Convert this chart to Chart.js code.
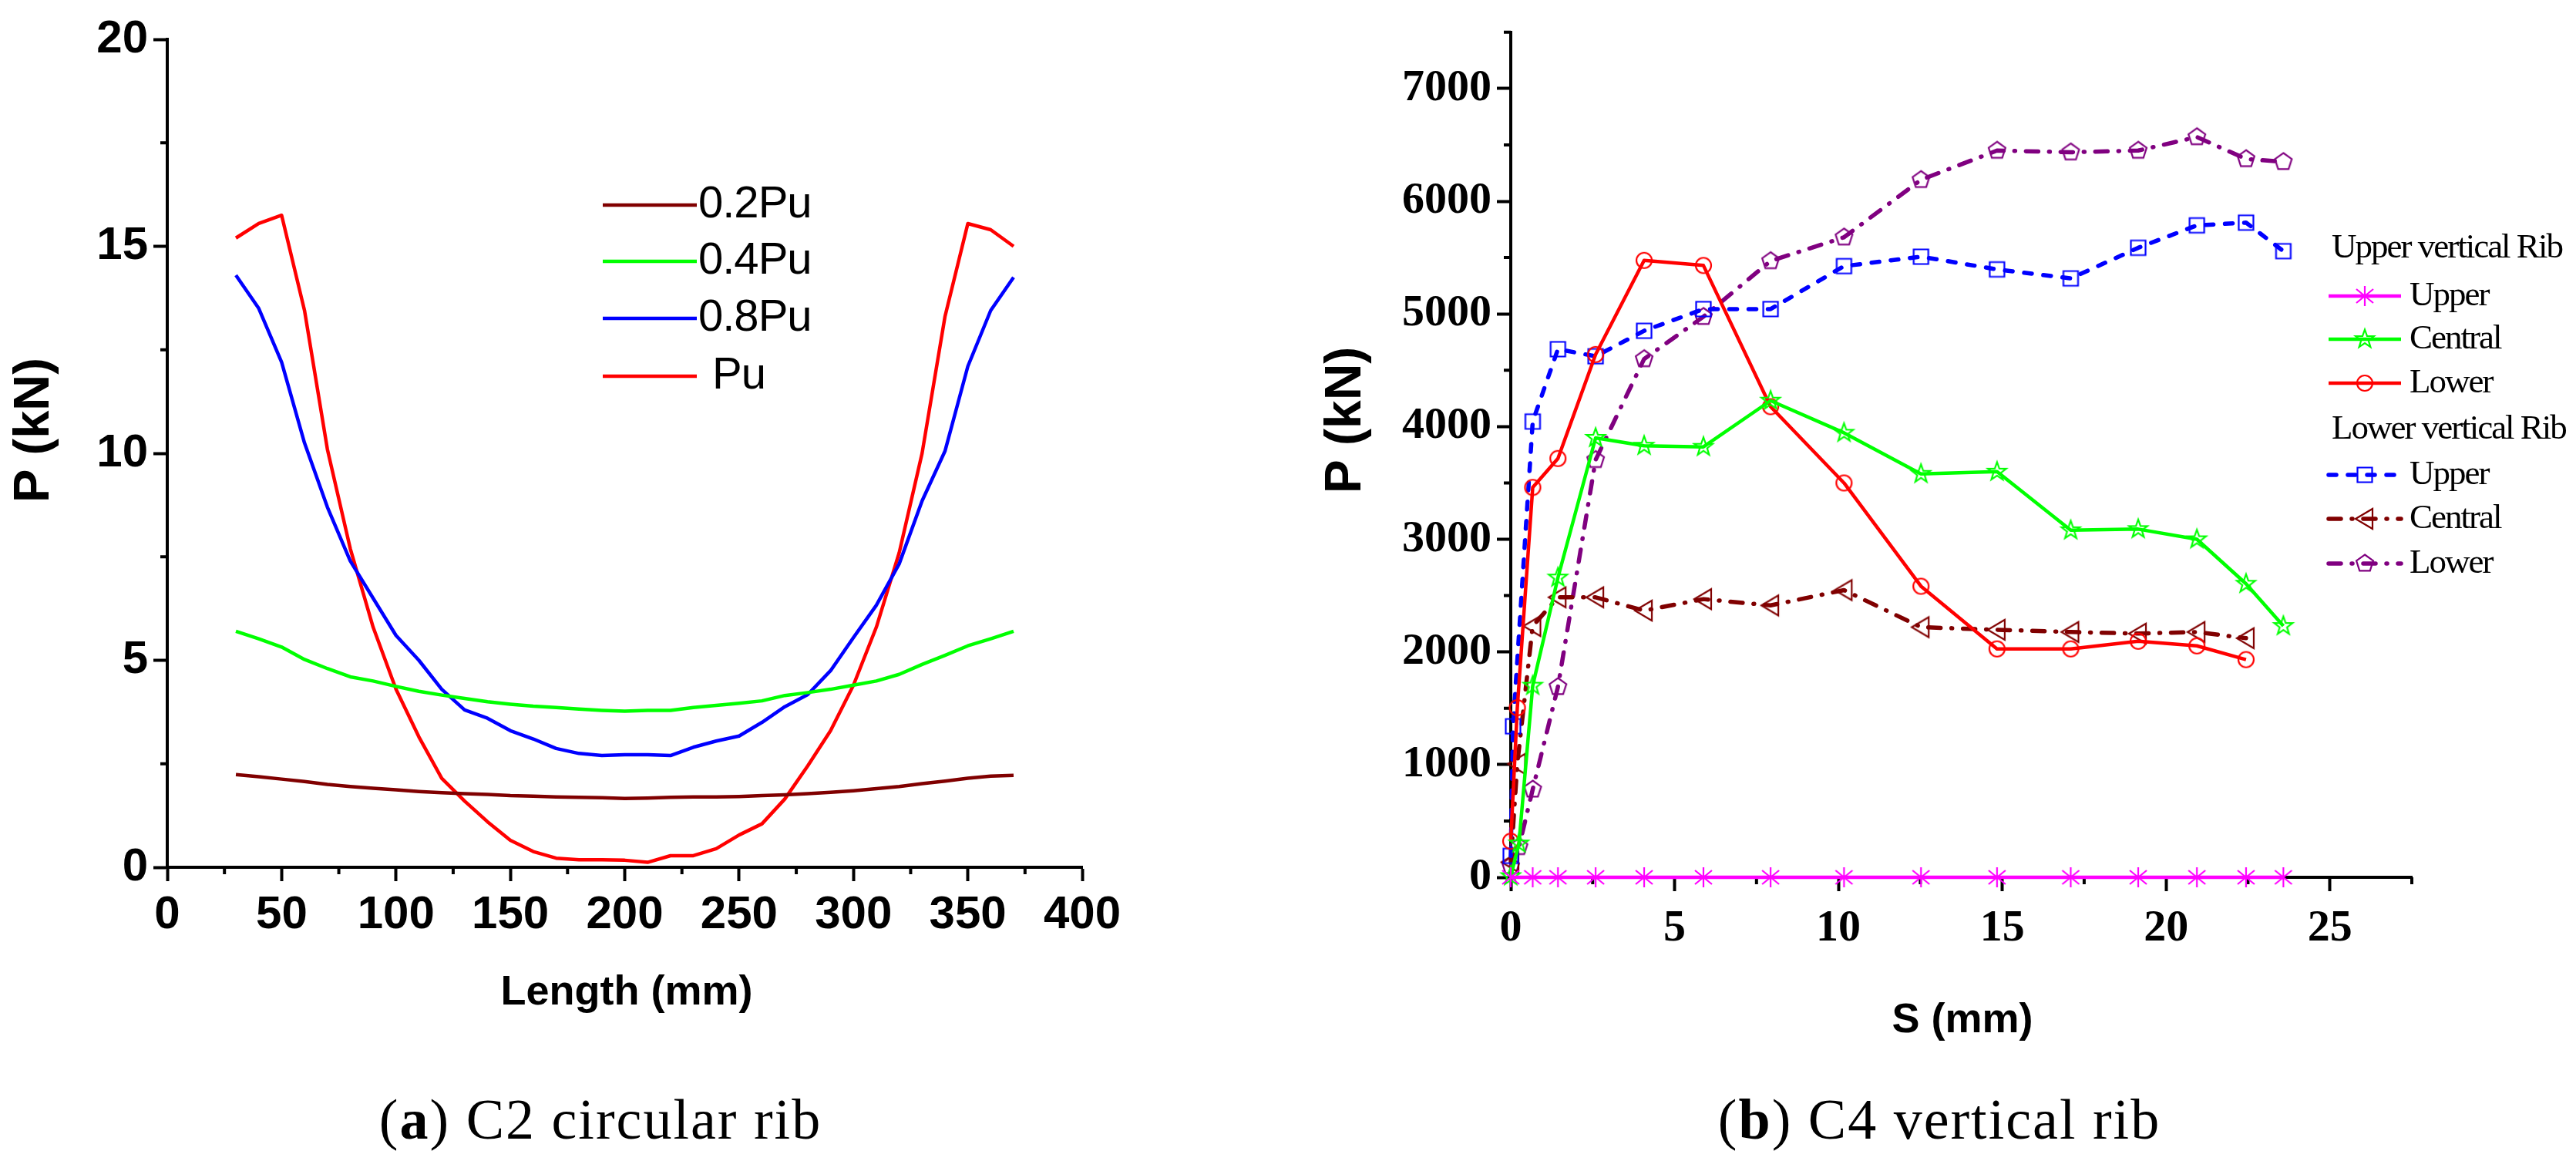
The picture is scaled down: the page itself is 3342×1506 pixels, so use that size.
<!DOCTYPE html>
<html lang="en">
<head>
<meta charset="utf-8">
<title>C2 circular rib / C4 vertical rib</title>
<script src="https://cdn.jsdelivr.net/npm/chart.js@4.4.1/dist/chart.umd.min.js"></script>
<style>
  html, body { margin: 0; padding: 0; background: #fff; }
  body { width: 3342px; height: 1506px; position: relative; overflow: hidden; }
  .panel { position: absolute; top: 0; }
  #panelA { left: 0; }
  #panelB { left: 1570px; }
  .caption {
    position: absolute; top: 1402px; height: 100px; line-height: 100px;
    font-family: "Liberation Serif", "Times New Roman", serif; font-size: 74px;
    letter-spacing: 2px; color: #000; white-space: nowrap; transform: translateX(-50%);
  }
</style>
</head>
<body>
<div class="panel" id="panelA"><canvas id="chartA" width="1570" height="1380"></canvas></div>
<div class="panel" id="panelB"><canvas id="chartB" width="1772" height="1380"></canvas></div>
<div class="caption" style="left:779px">(<b>a</b>) C2 circular rib</div>
<div class="caption" style="left:2516px">(<b>b</b>) C4 vertical rib</div>
<script>
// ---------- (a) C2 circular rib ----------
const longitud = [30, 40, 50, 60, 70, 80, 90, 100, 110, 120, 130, 140, 150, 160, 170, 180, 190, 200,
  210, 220, 230, 240, 250, 260, 270, 280, 290, 300, 310, 320, 330, 340, 350, 360, 370];
const p02Pu = [2.24, 2.19, 2.13, 2.07, 2.00, 1.95, 1.91, 1.87, 1.83, 1.80, 1.78, 1.76, 1.73, 1.72, 1.70, 1.69, 1.68, 1.66,
  1.67, 1.69, 1.70, 1.70, 1.71, 1.73, 1.75, 1.78, 1.81, 1.85, 1.90, 1.95, 2.02, 2.08, 2.15, 2.20, 2.22];
const p04Pu = [5.70, 5.52, 5.32, 5.02, 4.80, 4.60, 4.50, 4.37, 4.25, 4.16, 4.08, 4.00, 3.94, 3.89, 3.86, 3.82, 3.79, 3.77,
  3.79, 3.79, 3.86, 3.91, 3.96, 4.02, 4.15, 4.22, 4.30, 4.40, 4.50, 4.66, 4.90, 5.12, 5.35, 5.52, 5.70];
const p08Pu = [14.3, 13.5, 12.2, 10.25, 8.7, 7.4, 6.5, 5.6, 5.0, 4.3, 3.8, 3.6, 3.3, 3.1, 2.87, 2.75, 2.7, 2.72,
  2.72, 2.7, 2.9, 3.05, 3.17, 3.5, 3.88, 4.17, 4.75, 5.55, 6.33, 7.33, 8.85, 10.05, 12.1, 13.45, 14.25];
const pPu = [15.2, 15.55, 15.75, 13.45, 10.1, 7.7, 5.8, 4.3, 3.15, 2.15, 1.6, 1.1, 0.65, 0.38, 0.22, 0.18, 0.18, 0.17,
  0.12, 0.28, 0.28, 0.45, 0.78, 1.05, 1.65, 2.45, 3.3, 4.4, 5.8, 7.6, 10.0, 13.3, 15.55, 15.4, 15.0];

// ---------- (b) C4 vertical rib ----------
// upper vertical rib
const sSupUpper = [0, 0.67, 1.44, 2.59, 4.07, 5.88, 7.93, 10.17, 12.52, 14.84, 17.09, 19.15, 20.94, 22.44, 23.58];
const pSupUpper = [0, 0, 0, 0, 0, 0, 0, 0, 0, 0, 0, 0, 0, 0, 0];
const sSupCentral = [0, 0.25, 0.67, 1.44, 2.59, 4.07, 5.88, 7.93, 10.17, 12.52, 14.84, 17.09, 19.15, 20.94, 22.44, 23.58];
const pSupCentral = [10, 300, 1700, 2660, 3900, 3830, 3820, 4230, 3945, 3580, 3600, 3080, 3090, 3000, 2605, 2230];
const sSupLower = [0, 0.2, 0.67, 1.44, 2.59, 4.07, 5.88, 7.93, 10.17, 12.52, 14.84, 17.09, 19.15, 20.94, 22.44];
const pSupLower = [320, 1505, 3460, 3717, 4640, 5475, 5430, 4177, 3500, 2583, 2027, 2027, 2095, 2054, 1932];
// lower vertical rib
const sInfUpper = [0, 0.07, 0.67, 1.44, 2.59, 4.07, 5.88, 7.93, 10.17, 12.52, 14.84, 17.09, 19.15, 20.94, 22.44, 23.58];
const pInfUpper = [190, 1340, 4045, 4687, 4624, 4850, 5043, 5043, 5424, 5508, 5395, 5315, 5587, 5786, 5810, 5557];
const sInfCentral = [0, 0.2, 0.67, 1.44, 2.59, 4.07, 5.88, 7.93, 10.17, 12.52, 14.84, 17.09, 19.15, 20.94, 22.44];
const pInfCentral = [134, 1007, 2230, 2485, 2485, 2367, 2469, 2413, 2549, 2220, 2197, 2177, 2163, 2177, 2122];
const sInfLower = [0, 0.25, 0.67, 1.44, 2.59, 4.07, 5.88, 7.93, 10.17, 12.52, 14.84, 17.09, 19.15, 20.94, 22.44, 23.58];
const pInfLower = [100, 270, 780, 1690, 3705, 4600, 4975, 5470, 5680, 6190, 6450, 6435, 6450, 6570, 6375, 6350];

const SANS = '"Liberation Sans", Arial, sans-serif';
const SERIF = '"Liberation Serif", "Times New Roman", serif';

function esMultiplo(v, paso) {
  return Math.abs(v / paso - Math.round(v / paso)) < 1e-6;
}

// marcadores huecos dibujados en un canvas pequeño
function crearMarcador(color, dibujar) {
  const c = document.createElement('canvas');
  c.width = 34; c.height = 34;
  const g = c.getContext('2d');
  g.strokeStyle = color;
  g.lineWidth = 2.2;
  g.translate(17, 17);
  g.beginPath();
  dibujar(g);
  g.stroke();
  return c;
}

function poligono(g, n, radios, giro) {
  for (let i = 0; i < n; i++) {
    const r = radios[i % radios.length];
    const a = giro + i * 2 * Math.PI / n;
    if (i === 0) g.moveTo(r * Math.cos(a), r * Math.sin(a));
    else g.lineTo(r * Math.cos(a), r * Math.sin(a));
  }
  g.closePath();
}

const marcadores = {
  asterisco: crearMarcador('#FF00FF', g => {
    g.moveTo(0, -13); g.lineTo(0, 13);
    g.moveTo(-11, -9); g.lineTo(11, 9);
    g.moveTo(-11, 9); g.lineTo(11, -9);
  }),
  estrella: crearMarcador('#00FF00', g => poligono(g, 10, [12.5, 5], -Math.PI / 2)),
  circulo: crearMarcador('#FF0000', g => g.arc(0, 0, 10, 0, Math.PI * 2)),
  cuadro: crearMarcador('#0000FF', g => g.rect(-9.5, -9.5, 19, 19)),
  triangulo: crearMarcador('#800000', g => {
    g.moveTo(-12, 0); g.lineTo(10, -13); g.lineTo(10, 13); g.closePath();
  }),
  pentagono: crearMarcador('#800080', g => poligono(g, 5, [11.5], -Math.PI / 2))
};

function serieB(label, xs, ys, color, marcador, dash, ancho) {
  return {
    label,
    data: xs.map((x, i) => ({ x, y: ys[i] })),
    borderColor: color,
    backgroundColor: color,
    borderWidth: ancho,
    borderDash: dash,
    borderCapStyle: dash.length ? 'round' : 'butt',
    borderJoinStyle: 'round',
    pointStyle: marcador,
    pointRadius: 12,
    pointHoverRadius: 12,
    tension: 0,
    fill: false,
    clip: false
  };
}

function serieA(label, ys, color) {
  return {
    label,
    data: longitud.map((x, i) => ({ x, y: ys[i] })),
    borderColor: color,
    backgroundColor: color,
    borderWidth: 4.5,
    borderJoinStyle: 'round',
    pointRadius: 0,
    tension: 0,
    fill: false
  };
}

// marcas menores (mas cortas) que Chart.js no dibuja
function crearMarcasMenores(mayorX, mayorY, largo) {
  return {
    id: 'marcasMenores',
    beforeDatasetsDraw(chart) {
      const { ctx, chartArea, scales } = chart;
      ctx.save();
      ctx.strokeStyle = '#000';
      ctx.lineWidth = 4;
      ctx.beginPath();
      scales.x.ticks.forEach(t => {
        if (esMultiplo(t.value, mayorX)) return;
        const px = scales.x.getPixelForValue(t.value);
        ctx.moveTo(px, chartArea.bottom);
        ctx.lineTo(px, chartArea.bottom + largo);
      });
      scales.y.ticks.forEach(t => {
        if (esMultiplo(t.value, mayorY)) return;
        const py = scales.y.getPixelForValue(t.value);
        ctx.moveTo(chartArea.left - largo, py);
        ctx.lineTo(chartArea.left, py);
      });
      ctx.stroke();
      ctx.restore();
    }
  };
}

// titulos de ejes y leyenda a mano
function crearTextos(cfg) {
  return {
    id: 'textos',
    afterDraw(chart) {
      const ctx = chart.ctx;
      cfg.titulos.forEach(t => {
        ctx.save();
        ctx.font = t.fuente;
        ctx.fillStyle = '#000';
        ctx.textAlign = 'center';
        ctx.textBaseline = 'middle';
        ctx.translate(t.x, t.y);
        if (t.girado) ctx.rotate(-Math.PI / 2);
        ctx.fillText(t.texto, 0, 0);
        ctx.restore();
      });
      cfg.leyenda.forEach(item => {
        ctx.save();
        ctx.font = cfg.fuenteLeyenda;
        ctx.fillStyle = '#000';
        ctx.textAlign = 'left';
        ctx.textBaseline = 'middle';
        if ('letterSpacing' in ctx) ctx.letterSpacing = cfg.espaciado;
        if (item.serie === undefined) {
          ctx.fillText(item.texto, item.x, item.y);
        } else {
          const ds = chart.data.datasets[item.serie];
          ctx.strokeStyle = ds.borderColor;
          ctx.lineWidth = ds.borderWidth;
          ctx.lineCap = ds.borderCapStyle || 'butt';
          ctx.setLineDash(ds.borderDash || []);
          ctx.beginPath();
          ctx.moveTo(cfg.x0, item.y);
          ctx.lineTo(cfg.x1, item.y);
          ctx.stroke();
          ctx.setLineDash([]);
          const m = ds.pointStyle;
          if (m && typeof m === 'object') {
            const xm = (cfg.x0 + cfg.x1) / 2;
            ctx.drawImage(m, xm - m.width / 2, item.y - m.height / 2);
          }
          ctx.fillText(ds.label, item.tx || cfg.xTexto, item.y);
        }
        ctx.restore();
      });
    }
  };
}

function ejeLineal(min, max, paso, mayor, fuente, padding, ancho, alto) {
  const eje = {
    type: 'linear',
    min, max,
    ticks: {
      stepSize: paso,
      autoSkip: false,
      maxRotation: 0,
      minRotation: 0,
      padding,
      color: '#000',
      font: fuente,
      callback: v => esMultiplo(v, mayor) ? String(v) : ''
    },
    grid: {
      drawOnChartArea: false,
      tickLength: 18,
      tickWidth: 4,
      tickColor: c => (c.tick && esMultiplo(c.tick.value, mayor)) ? '#000' : 'rgba(0,0,0,0)'
    },
    border: { display: true, width: 4, color: '#000' }
  };
  if (ancho) eje.afterFit = s => { s.width = ancho; };
  if (alto) eje.afterFit = s => { s.height = alto; };
  return eje;
}

// ---------- grafico (a) ----------
const fuenteA = { family: SANS, size: 60, weight: 'bold' };
new Chart(document.getElementById('chartA'), {
  type: 'line',
  data: {
    datasets: [
      serieA('0.2Pu', p02Pu, '#800000'),
      serieA('0.4Pu', p04Pu, '#00FF00'),
      serieA('0.8Pu', p08Pu, '#0000FF'),
      serieA('Pu', pPu, '#FF0000')
    ]
  },
  options: {
    responsive: false,
    animation: false,
    devicePixelRatio: 1,
    layout: { padding: { left: 0, top: 51, right: 166, bottom: 0 } },
    scales: {
      x: ejeLineal(0, 400, 25, 50, fuenteA, 8, null, 255),
      y: ejeLineal(0, 20, 2.5, 5, fuenteA, 7, 217, null)
    },
    plugins: { legend: { display: false }, tooltip: { enabled: false } }
  },
  plugins: [
    crearMarcasMenores(50, 5, 9),
    crearTextos({
      titulos: [
        { texto: 'P (kN)', x: 45, y: 558, girado: true, fuente: 'bold 65px ' + SANS },
        { texto: 'Length (mm)', x: 813, y: 1288, fuente: 'bold 54px ' + SANS }
      ],
      fuenteLeyenda: '58px ' + SANS,
      espaciado: '-1px',
      x0: 782, x1: 904, xTexto: 906,
      leyenda: [
        { serie: 0, y: 266 },
        { serie: 1, y: 339 },
        { serie: 2, y: 413 },
        { serie: 3, y: 488, tx: 924 }
      ]
    })
  ]
});

// ---------- grafico (b) ----------
const fuenteB = { family: SERIF, size: 58, weight: 'bold' };
const guionPunto = [16, 14, 1, 14];
new Chart(document.getElementById('chartB'), {
  type: 'line',
  data: {
    datasets: [
      serieB('Upper', sSupUpper, pSupUpper, '#FF00FF', marcadores.asterisco, [], 4.5),
      serieB('Central', sSupCentral, pSupCentral, '#00FF00', marcadores.estrella, [], 4.5),
      serieB('Lower', sSupLower, pSupLower, '#FF0000', marcadores.circulo, [], 4.5),
      serieB('Upper', sInfUpper, pInfUpper, '#0000FF', marcadores.cuadro, [10, 15], 5.5),
      serieB('Central', sInfCentral, pInfCentral, '#800000', marcadores.triangulo, guionPunto, 5.5),
      serieB('Lower', sInfLower, pInfLower, '#800080', marcadores.pentagono, guionPunto, 5.5)
    ]
  },
  options: {
    responsive: false,
    animation: false,
    devicePixelRatio: 1,
    layout: { padding: { left: 0, top: 37, right: 213, bottom: 0 } },
    scales: {
      x: ejeLineal(0, 27.5, 2.5, 5, fuenteB, 14, null, 242),
      y: ejeLineal(0, 7500, 500, 1000, fuenteB, 7, 390, null)
    },
    plugins: { legend: { display: false }, tooltip: { enabled: false } }
  },
  plugins: [
    crearMarcasMenores(5, 1000, 9),
    crearTextos({
      titulos: [
        { texto: 'P (kN)', x: 177, y: 545, girado: true, fuente: 'bold 66px ' + SANS },
        { texto: 'S (mm)', x: 976, y: 1324, fuente: 'bold 54px ' + SANS }
      ],
      fuenteLeyenda: '45px ' + SERIF,
      espaciado: '-2px',
      x0: 1451, x1: 1545, xTexto: 1556,
      leyenda: [
        { texto: 'Upper vertical Rib', x: 1455, y: 322 },
        { serie: 0, y: 384 },
        { serie: 1, y: 440 },
        { serie: 2, y: 497 },
        { texto: 'Lower vertical Rib', x: 1455, y: 557 },
        { serie: 3, y: 616 },
        { serie: 4, y: 673 },
        { serie: 5, y: 731 }
      ]
    })
  ]
});
</script>
</body>
</html>
